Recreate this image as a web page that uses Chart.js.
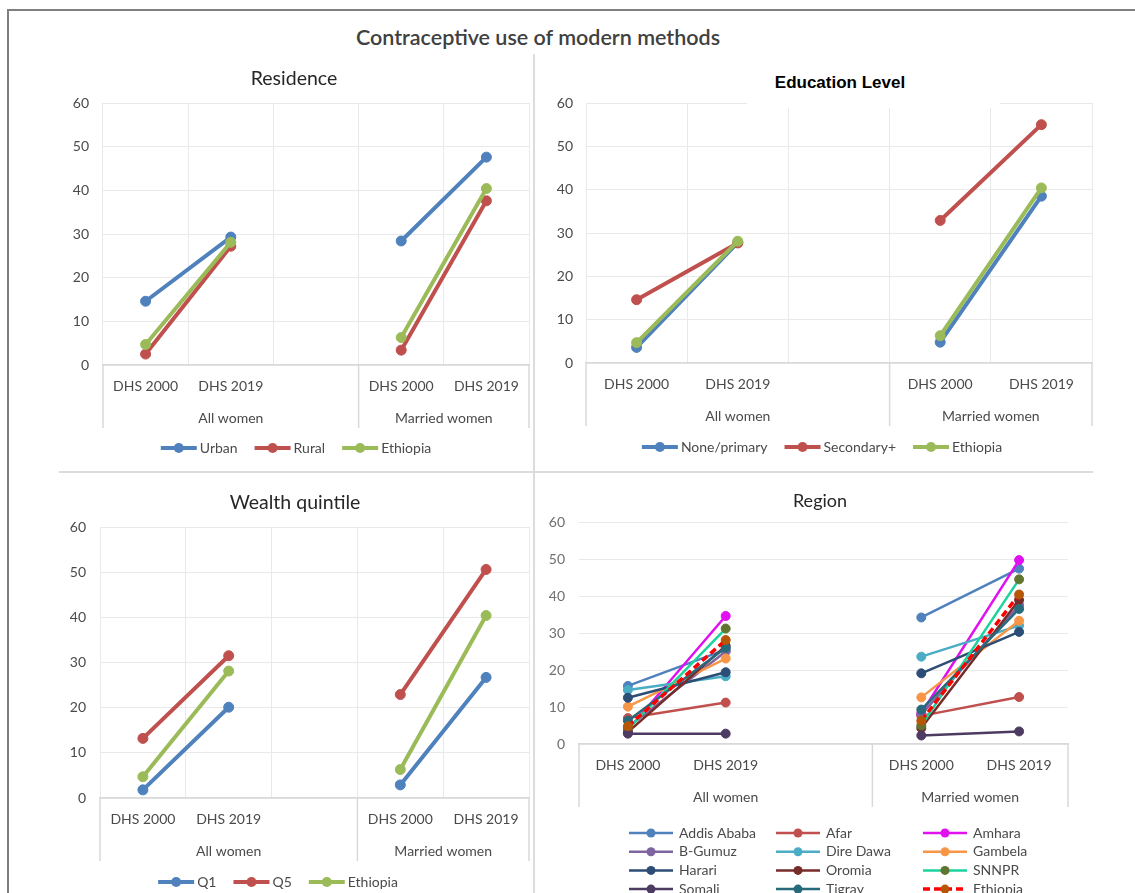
<!DOCTYPE html>
<html>
<head>
<meta charset="utf-8">
<script src="https://cdn.jsdelivr.net/npm/chart.js@4.4.1/dist/chart.umd.min.js"></script>
<style>
html, body { margin: 0; padding: 0; background: #fff; overflow: hidden; }
#page { position: relative; width: 1135px; height: 893px; overflow: hidden; font-family: Lato, "Open Sans", sans-serif; }
#frame { position: absolute; left: 7px; top: 9px; width: 1300px; height: 1000px; border-top: 2px solid #7f7f7f; border-left: 2px solid #7f7f7f; }
.vdiv { position: absolute; left: 533px; top: 54px; width: 2px; height: 900px; background: #dcdcdc; }
.hdiv { position: absolute; left: 59px; top: 471px; width: 1034px; height: 2px; background: #dcdcdc; }
canvas { position: absolute; z-index: 1; }
.t { position: absolute; transform: translate(-50%, -50%); white-space: nowrap; z-index: 3; }
.mask { position: absolute; background: #fff; z-index: 2; }
</style>
</head>
<body>
<div id="page">
  <div id="frame"></div>
  <div class="vdiv"></div>
  <div class="hdiv"></div>
  <div class="t" style="left:538px;top:37px;font-size:21.5px;font-weight:600;color:#404040;">Contraceptive use of modern methods</div>
  <div class="t" style="left:294px;top:77px;font-size:19.5px;color:#262626;">Residence</div>
  <div class="mask" style="left:747px;top:64px;width:253px;height:44px;"></div>
  <div class="t" style="left:840px;top:83px;font-family:'Liberation Sans',Arial,sans-serif;font-weight:bold;font-size:17px;color:#000;">Education Level</div>
  <div class="t" style="left:295px;top:501px;font-size:19.5px;color:#262626;">Wealth quintile</div>
  <div class="t" style="left:820px;top:500px;font-size:18px;color:#262626;">Region</div>
  <canvas id="cRes"></canvas>
  <canvas id="cEdu"></canvas>
  <canvas id="cWea"></canvas>
  <canvas id="cReg"></canvas>
</div>
<script>
// ---------------- DATA ----------------
const periods = ["DHS 2000", "DHS 2019", "", "DHS 2000", "DHS 2019"];
const groupLabels = ["All women", "Married women"];
const groupStarts = [0, 3];
const groupEnds = [2, 4];
const yMin = 0;
const yMax = 60;
const yStep = 10;

// Residence
const residenceNames = ["Urban", "Rural", "Ethiopia"];
const urbanValues = [14.6, 29.3, null, 28.4, 47.6];
const ruralValues = [2.5, 27.2, null, 3.4, 37.6];
const ethiopiaValues = [4.7, 28.1, null, 6.3, 40.4];

// Education level
const educationNames = ["None/primary", "Secondary+", "Ethiopia"];
const nonePrimaryValues = [3.6, 27.8, null, 4.8, 38.5];
const secondaryPlusValues = [14.6, 27.7, null, 32.9, 55.0];

// Wealth quintile
const wealthNames = ["Q1", "Q5", "Ethiopia"];
const q1Values = [1.8, 20.1, null, 2.9, 26.7];
const q5Values = [13.2, 31.5, null, 22.9, 50.6];

// Region
const regionNames = ["Addis Ababa", "Afar", "Amhara", "B-Gumuz", "Dire Dawa", "Gambela",
                     "Harari", "Oromia", "SNNPR", "Somali", "Tigray", "Ethiopia"];
const addisAbabaValues = [15.7, 25.5, null, 34.2, 47.4];
const afarValues = [7.0, 11.2, null, 7.6, 12.7];
const amharaValues = [3.8, 34.6, null, 8.3, 49.7];
const bGumuzValues = [4.5, 25.0, null, 8.0, 37.5];
const direDawaValues = [14.6, 18.3, null, 23.6, 32.0];
const gambelaValues = [10.1, 23.1, null, 12.6, 33.3];
const harariValues = [12.5, 19.4, null, 19.1, 30.3];
const oromiaValues = [3.2, 26.5, null, 4.3, 38.9];
const snnprValues = [4.0, 31.2, null, 5.0, 44.5];
const somaliValues = [2.8, 2.8, null, 2.3, 3.4];
const tigrayValues = [6.3, 26.0, null, 9.3, 36.5];
const ethiopiaRegionValues = [4.8, 28.1, null, 6.3, 40.4];

// ---------------- STYLE ----------------
const FONT = "Lato, 'Open Sans', sans-serif";
const TXT = "#4a4a4a";
const GRID = "#e9e9e9";
const AXIS = "#d9d9d9";
const BLUE = "#4F81BD", RED = "#C0504D", GREEN = "#9BBB59";

function lineDs(label, data, color, i, n, opt) {
  opt = opt || {};
  return {
    label, data,
    borderColor: color,
    backgroundColor: opt.marker || color,
    pointBackgroundColor: opt.marker || color,
    pointBorderColor: opt.marker || color,
    pointBorderWidth: 1,
    borderWidth: opt.width || 4,
    pointRadius: opt.radius || 5,
    borderDash: opt.dash || [],
    spanGaps: false,
    tension: 0,
    order: n - i
  };
}

// ---------------- PLUGINS ----------------
const groupAxisPlugin = {
  id: "groupAxis",
  afterDraw(chart, args, o) {
    const x = chart.scales.x, area = chart.chartArea, ctx = chart.ctx;
    const half = (x.getPixelForValue(1) - x.getPixelForValue(0)) / 2;
    ctx.save();
    ctx.strokeStyle = AXIS;
    ctx.lineWidth = 1.5;
    const edges = new Set();
    groupStarts.forEach((s, i) => { edges.add(s); edges.add(groupEnds[i] + 1); });
    edges.forEach(e => {
      const px = x.getPixelForValue(e) - half;
      ctx.beginPath();
      ctx.moveTo(px, area.bottom);
      ctx.lineTo(px, area.bottom + 63);
      ctx.stroke();
    });
    ctx.fillStyle = TXT;
    ctx.font = "14px " + FONT;
    ctx.textAlign = "center";
    ctx.textBaseline = "middle";
    groupLabels.forEach((lab, i) => {
      const cx = (x.getPixelForValue(groupStarts[i]) + x.getPixelForValue(groupEnds[i])) / 2;
      ctx.fillText(lab, cx, area.bottom + 53);
    });
    ctx.restore();
  }
};

function drawSample(ctx, d, x, y, len) {
  ctx.save();
  ctx.strokeStyle = d.borderColor;
  ctx.lineWidth = d.borderWidth;
  ctx.setLineDash(d.borderDash || []);
  ctx.beginPath();
  ctx.moveTo(x, y);
  ctx.lineTo(x + len, y);
  ctx.stroke();
  ctx.setLineDash([]);
  ctx.fillStyle = d.pointBackgroundColor;
  ctx.beginPath();
  ctx.arc(x + len / 2, y, d.pointRadius, 0, Math.PI * 2);
  ctx.fill();
  ctx.restore();
}

const legendPlugin = {
  id: "customLegend",
  afterDraw(chart, args, o) {
    const ctx = chart.ctx;
    const ds = chart.data.datasets;
    const ox = o.originX, oy = o.originY;
    ctx.save();
    ctx.font = "14px " + FONT;
    ctx.fillStyle = TXT;
    ctx.textBaseline = "middle";
    ctx.textAlign = "left";
    if (o.mode === "row") {
      const widths = ds.map(d => o.lineLen + o.gap + ctx.measureText(d.label).width);
      const total = widths.reduce((a, b) => a + b, 0) + o.spacing * (ds.length - 1);
      let x = o.cx - ox - total / 2;
      const y = o.y - oy;
      ds.forEach((d, i) => {
        drawSample(ctx, d, x, y, o.lineLen);
        ctx.fillStyle = TXT;
        ctx.fillText(d.label, x + o.lineLen + o.gap, y);
        x += widths[i] + o.spacing;
      });
    } else {
      ds.forEach((d, i) => {
        const c = i % o.cols, r = Math.floor(i / o.cols);
        const x = o.x0 - ox + c * o.colW;
        const y = o.y0 - oy + r * o.rowH;
        drawSample(ctx, d, x, y, o.lineLen);
        ctx.fillStyle = TXT;
        ctx.fillText(d.label, x + o.lineLen + o.gap, y);
      });
    }
    ctx.restore();
  }
};

// ---------------- CHART FACTORY ----------------
function makeChart(id, rect, area, datasets, cfg) {
  const cv = document.getElementById(id);
  cv.width = rect.w; cv.height = rect.h;
  cv.style.left = rect.x + "px"; cv.style.top = rect.y + "px";
  const xAxisH = 70;
  const legendOpts = Object.assign({ originX: rect.x, originY: rect.y }, cfg.legend);
  return new Chart(cv, {
    type: "line",
    data: { labels: periods, datasets },
    options: {
      responsive: false,
      animation: false,
      devicePixelRatio: 1,
      events: [],
      layout: {
        padding: {
          left: 0,
          top: area.t - rect.y,
          right: rect.x + rect.w - area.r,
          bottom: rect.y + rect.h - area.b - xAxisH
        }
      },
      scales: {
        x: {
          type: "category",
          offset: true,
          grid: { display: cfg.vgrid, offset: true, color: GRID, lineWidth: 1, drawTicks: false },
          border: { display: true, color: AXIS, width: 1.5 },
          ticks: { color: TXT, font: { family: FONT, size: 14 }, padding: 13, maxRotation: 0, autoSkip: false },
          afterFit(s) { s.height = xAxisH; }
        },
        y: {
          min: yMin, max: yMax,
          ticks: { stepSize: yStep, color: cfg.yColor || TXT, font: { family: FONT, size: 14 }, padding: cfg.yPad },
          grid: { color: GRID, lineWidth: 1, drawTicks: false },
          border: { display: false },
          afterFit(s) { s.width = area.l - rect.x; }
        }
      },
      plugins: {
        legend: { display: false },
        tooltip: { enabled: false },
        title: { display: false },
        customLegend: legendOpts
      }
    },
    plugins: [groupAxisPlugin, legendPlugin]
  });
}

// Residence
makeChart("cRes",
  { x: 14, y: 73, w: 521, h: 397 },
  { l: 103, t: 103, r: 530, b: 365 },
  [
    lineDs(residenceNames[0], urbanValues, BLUE, 0, 3),
    lineDs(residenceNames[1], ruralValues, RED, 1, 3),
    lineDs(residenceNames[2], ethiopiaValues, GREEN, 2, 3)
  ],
  { vgrid: true, yPad: 14, legend: { mode: "row", cx: 296, y: 448, lineLen: 36, gap: 3, spacing: 17 } }
);

// Education level
makeChart("cEdu",
  { x: 540, y: 73, w: 590, h: 397 },
  { l: 586, t: 103, r: 1092, b: 363 },
  [
    lineDs(educationNames[0], nonePrimaryValues, BLUE, 0, 3),
    lineDs(educationNames[1], secondaryPlusValues, RED, 1, 3),
    lineDs(educationNames[2], ethiopiaValues, GREEN, 2, 3)
  ],
  { vgrid: true, yPad: 13, legend: { mode: "row", cx: 822, y: 447, lineLen: 36, gap: 3, spacing: 17 } }
);

// Wealth quintile
makeChart("cWea",
  { x: 14, y: 497, w: 521, h: 396 },
  { l: 100, t: 527, r: 530, b: 798 },
  [
    lineDs(wealthNames[0], q1Values, BLUE, 0, 3),
    lineDs(wealthNames[1], q5Values, RED, 1, 3),
    lineDs(wealthNames[2], ethiopiaValues, GREEN, 2, 3)
  ],
  { vgrid: true, yPad: 14, legend: { mode: "row", cx: 278, y: 882, lineLen: 36, gap: 3, spacing: 17 } }
);

// Region
const regionValues = [addisAbabaValues, afarValues, amharaValues, bGumuzValues, direDawaValues,
  gambelaValues, harariValues, oromiaValues, snnprValues, somaliValues, tigrayValues, ethiopiaRegionValues];
const regionColors = ["#4F81BD", "#C0504D", "#E010F0", "#8064A2", "#4BACC6", "#F79646",
  "#2C4D75", "#772C2A", "#1DD39C", "#4D3B62", "#276A7C", "#FF0000"];
const regionMarkers = { 8: "#5F7530", 11: "#B65708" };
const regionDatasets = regionNames.map((name, i) =>
  lineDs(name, regionValues[i], regionColors[i], i, regionNames.length, {
    width: i === 11 ? 3.5 : 2.5,
    radius: 4.5,
    marker: regionMarkers[i],
    dash: i === 11 ? [7, 4] : []
  })
);
makeChart("cReg",
  { x: 540, y: 492, w: 590, h: 418 },
  { l: 579, t: 522, r: 1068, b: 744 },
  regionDatasets,
  { vgrid: false, yPad: 14, yColor: "#6f6f6f",
    legend: { mode: "grid", x0: 629, y0: 833, colW: 147, rowH: 18.7, cols: 3, lineLen: 44, gap: 6 } }
);
</script>
</body>
</html>
